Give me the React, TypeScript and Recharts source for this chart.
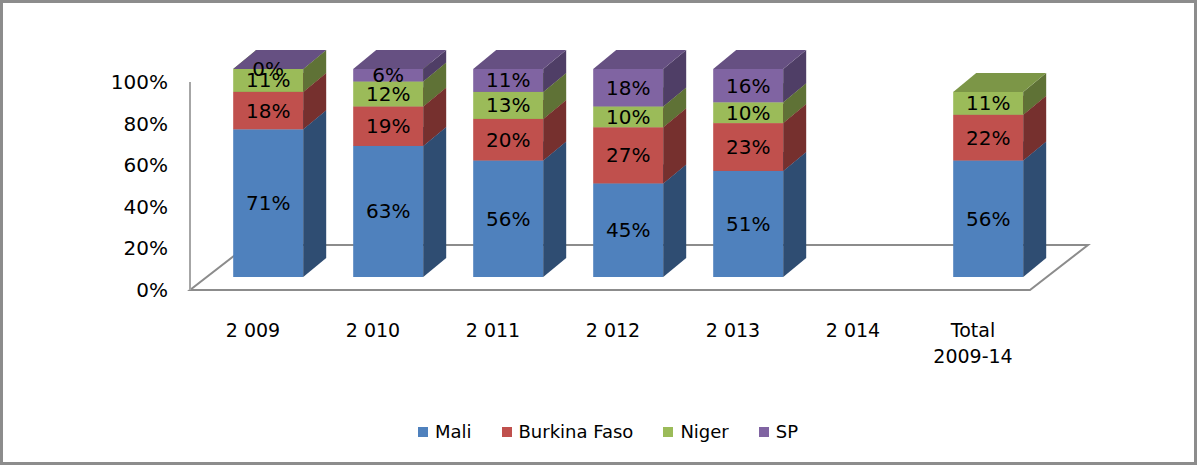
import React from "react"
import { BarChart, Bar, XAxis, YAxis, LabelList } from "recharts"

// categories and stacked shares (%) per country
const categories = ["2 009", "2 010", "2 011", "2 012", "2 013", "2 014", "Total 2009-14"]
const mali = [71, 63, 56, 45, 51, null, 56]
const burkina = [18, 19, 20, 27, 23, null, 22]
const niger = [11, 12, 13, 10, 10, null, 11]
const sp = [0, 6, 11, 18, 16, null, null]
const yTicks = [0, 20, 40, 60, 80, 100]

const series = [
  { key: "mali", name: "Mali", color: "#4F81BD", side: "#2F4D72", top: "#3F679A" },
  { key: "burkina", name: "Burkina Faso", color: "#C0504D", side: "#76302E", top: "#9A403E" },
  { key: "niger", name: "Niger", color: "#9BBB59", side: "#5F7236", top: "#7C9647" },
  { key: "sp", name: "SP", color: "#8064A2", side: "#4F3E66", top: "#665082" },
]

const data = categories.map((c, i) => ({
  name: c,
  mali: mali[i],
  burkina: burkina[i],
  niger: niger[i],
  sp: sp[i],
}))

const W = 1200
const H = 468
const FONT = "'DejaVu Sans', sans-serif"

// plot box (front edge of the floor)
const PLOT_LEFT = 190
const PLOT_RIGHT = 1030
const PLOT_TOP = 82
const PLOT_BOTTOM = 290

// perspective: floor depth, bar depth and how far the bars sit into the floor
const FLOOR_DX = 58
const FLOOR_DY = -45
const BOX_DX = 23
const BOX_DY = -19
const SHIFT_X = 18
const SHIFT_Y = -13

function Box3D(props: any) {
  const { x, y, width, height, color, side, top, payload, seriesKey } = props
  if (x == null || y == null || isNaN(y)) return null
  if (payload && payload[seriesKey] == null) return null
  const fx = x + SHIFT_X
  const fy = y + SHIFT_Y
  const w = width
  const h = Math.max(0, height)
  return (
    <g>
      <rect x={fx} y={fy} width={w} height={h} fill={color} />
      <polygon
        points={`${fx + w},${fy} ${fx + w + BOX_DX},${fy + BOX_DY} ${fx + w + BOX_DX},${fy + h + BOX_DY} ${fx + w},${fy + h}`}
        fill={side}
      />
      <polygon
        points={`${fx},${fy} ${fx + BOX_DX},${fy + BOX_DY} ${fx + w + BOX_DX},${fy + BOX_DY} ${fx + w},${fy}`}
        fill={top}
      />
    </g>
  )
}

function SegmentLabel(props: any) {
  const { x, y, width, height, value } = props
  if (value == null) return null
  return (
    <text
      x={x + width / 2 + SHIFT_X}
      y={y + height / 2 + SHIFT_Y}
      textAnchor="middle"
      dominantBaseline="central"
      fontFamily={FONT}
      fontSize={20}
      fill="#000"
    >
      {value}%
    </text>
  )
}

function XTick(props: any) {
  const { x, payload } = props
  const v: string = payload.value
  const lines = v.startsWith("Total") ? ["Total", v.slice(6)] : [v]
  return (
    <g>
      {lines.map((l, i) => (
        <text
          key={i}
          x={x + 3}
          y={PLOT_BOTTOM + 40 + i * 26}
          textAnchor="middle"
          dominantBaseline="central"
          fontFamily={FONT}
          fontSize={19}
          fill="#000"
        >
          {l}
        </text>
      ))}
    </g>
  )
}

function YTick(props: any) {
  const { y, payload } = props
  return (
    <text
      x={PLOT_LEFT - 22}
      y={y}
      textAnchor="end"
      dominantBaseline="central"
      fontFamily={FONT}
      fontSize={20}
      fill="#000"
    >
      {payload.value}%
    </text>
  )
}

function Floor() {
  return (
    <svg width={W} height={H} style={{ position: "absolute", left: 0, top: 0 }}>
      <polygon
        points={`${PLOT_LEFT},${PLOT_BOTTOM} ${PLOT_RIGHT},${PLOT_BOTTOM} ${PLOT_RIGHT + FLOOR_DX},${PLOT_BOTTOM + FLOOR_DY} ${PLOT_LEFT + FLOOR_DX},${PLOT_BOTTOM + FLOOR_DY}`}
        fill="none"
        stroke="#8c8c8c"
        strokeWidth={2}
      />
      <line x1={PLOT_LEFT} y1={PLOT_BOTTOM} x2={PLOT_LEFT} y2={PLOT_TOP} stroke="#a6a6a6" strokeWidth={2} />
    </svg>
  )
}

export default function App() {
  return (
    <div
      style={{
        position: "absolute",
        left: 0,
        top: 0,
        width: W,
        height: H,
        background: "#fff",
        fontFamily: FONT,
      }}
    >
      <Floor />
      <div style={{ position: "absolute", left: 0, top: 0 }}>
        <BarChart
          width={W}
          height={H}
          data={data}
          barCategoryGap="21%"
          margin={{ top: PLOT_TOP, right: W - PLOT_RIGHT, bottom: H - PLOT_BOTTOM - 60, left: PLOT_LEFT - 60 }}
        >
          <XAxis dataKey="name" axisLine={false} tickLine={false} height={60} interval={0} tick={<XTick />} />
          <YAxis
            domain={[0, 100]}
            ticks={yTicks}
            axisLine={false}
            tickLine={false}
            width={60}
            tick={<YTick />}
          />
          {series.map((s) => (
            <Bar
              key={s.key}
              dataKey={s.key}
              name={s.name}
              stackId="a"
              fill={s.color}
              isAnimationActive={false}
              shape={(p: any) => (
                <Box3D {...p} seriesKey={s.key} color={s.color} side={s.side} top={s.top} />
              )}
            >
              <LabelList dataKey={s.key} content={<SegmentLabel />} />
            </Bar>
          ))}
        </BarChart>
      </div>
      <div
        style={{
          position: "absolute",
          left: 0,
          width: 1216,
          top: 421,
          display: "flex",
          justifyContent: "center",
          gap: 30,
          fontSize: 18,
          color: "#000",
        }}
      >
        {series.map((s) => (
          <div key={s.key} style={{ display: "flex", alignItems: "center", gap: 7 }}>
            <div style={{ width: 10, height: 10, background: s.color }} />
            <span>{s.name}</span>
          </div>
        ))}
      </div>
      <div
        style={{
          position: "absolute",
          left: 0,
          top: 0,
          width: W - 3,
          height: H - 3,
          border: "3px solid #8c8c8c",
          boxSizing: "border-box",
          pointerEvents: "none",
        }}
      />
    </div>
  )
}
